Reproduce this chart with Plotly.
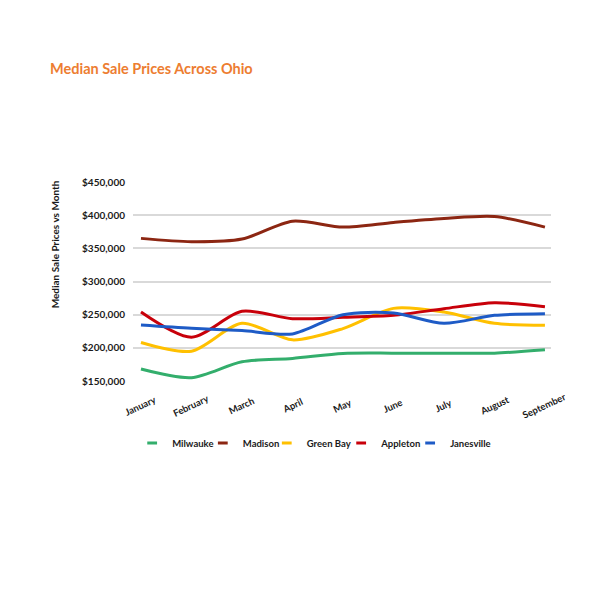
import plotly.graph_objects as go

months = ["January", "February", "March", "April", "May", "June", "July", "August", "September"]
milwauke = [168000, 155000, 179000, 184000, 191500, 192000, 192000, 192000, 197000]
madison = [365000, 360000, 364000, 391000, 382000, 389000, 395000, 398000, 382000]
green_bay = [208000, 195000, 237000, 212000, 229000, 259500, 254000, 237000, 234000]
appleton = [254000, 216000, 255000, 244000, 246000, 249000, 259000, 268000, 262000]
janesville = [234500, 229500, 226000, 221000, 250000, 252500, 237000, 249000, 251500]

series = [
    ("Milwauke", milwauke, "#33AE6C"),
    ("Madison", madison, "#8C2612"),
    ("Green Bay", green_bay, "#FFC000"),
    ("Appleton", appleton, "#C8000A"),
    ("Janesville", janesville, "#1E5BC6"),
]

y_ticks = [150000, 200000, 250000, 300000, 350000, 400000, 450000]
y_tick_text = ["<b>${:,}</b>".format(v) for v in y_ticks]
legend_x = [-0.002, 0.167, 0.32, 0.498, 0.663]
FONT = "Lato"
TXT = "#1a1a1a"

fig = go.Figure()
layout_legends = {}
for k, (name, vals, color) in enumerate(series):
    lg = "legend" if k == 0 else "legend%d" % (k + 1)
    fig.add_trace(go.Scatter(
        x=list(range(len(months))), y=vals, mode="lines", name=name,
        line=dict(color=color, width=3, shape="spline", smoothing=0.8),
        showlegend=False,
    ))
    fig.add_trace(go.Scatter(
        x=[None], y=[None], mode="markers", name="<b>" + name + "</b>",
        marker=dict(symbol="line-ew", size=7, line=dict(color=color, width=3)),
        showlegend=True, legend=lg,
    ))
    layout_legends[lg] = dict(
        orientation="h", x=legend_x[k], xanchor="left", y=-0.312, yanchor="middle",
        font=dict(family=FONT, size=9.5, color=TXT),
        itemwidth=30, bgcolor="rgba(0,0,0,0)",
    )

for i, m in enumerate(months):
    fig.add_annotation(
        x=i, xref="x", y=-0.125, yref="paper", text="<b>" + m + "</b>",
        showarrow=False, textangle=-25, xanchor="center", yanchor="middle",
        font=dict(family=FONT, size=9.5, color=TXT),
    )

fig.add_annotation(
    x=-0.186, xref="paper", y=0.688, yref="paper",
    text="<b>Median Sale Prices vs Month</b>", showarrow=False, textangle=-90,
    xanchor="center", yanchor="middle",
    font=dict(family=FONT, size=10, color=TXT),
)

fig.update_layout(
    width=600, height=600,
    paper_bgcolor="white", plot_bgcolor="white",
    margin=dict(l=125, r=57, t=174, b=227),
    title=dict(
        text="<b>Median Sale Prices Across Ohio</b>",
        x=42 / 600, xref="container", xanchor="left",
        y=1 - 61 / 600, yref="container", yanchor="middle",
        font=dict(family=FONT, size=14.5, color="#ED7D31"),
    ),
    xaxis=dict(
        range=[-0.158, 8.12], showticklabels=False, showgrid=False,
        zeroline=False, showline=False, ticks="",
    ),
    yaxis=dict(
        range=[150000, 450000], tickvals=y_ticks, ticktext=y_tick_text,
        showgrid=True, gridcolor="#D9D9D9", gridwidth=1.5, zeroline=False,
        showline=False, ticks="", ticklabelstandoff=7,
        tickfont=dict(family=FONT, size=10, color=TXT),
    ),
    **layout_legends,
)

fig.write_html("out.html")
